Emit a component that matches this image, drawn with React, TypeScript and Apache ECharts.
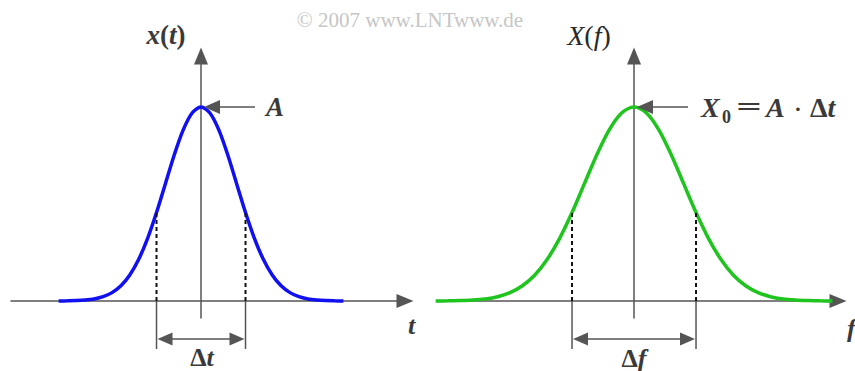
import React, { useEffect, useRef } from "react";
import * as echarts from "echarts";

// Sample positions (in units of the pulse width) and curve values
const tSamples = [
  -1.6, -1.5, -1.4, -1.3, -1.2, -1.1, -1.0, -0.9, -0.8, -0.7, -0.6, -0.5, -0.4, -0.3, -0.2, -0.1, 0,
  0.1, 0.2, 0.3, 0.4, 0.5, 0.6, 0.7, 0.8, 0.9, 1.0, 1.1, 1.2, 1.3, 1.4, 1.5, 1.6,
];
const pulseValues = [
  0.0003, 0.0009, 0.0021, 0.0049, 0.0108, 0.0223, 0.0432, 0.0785, 0.134, 0.215, 0.323, 0.456, 0.605,
  0.754, 0.882, 0.969, 1, 0.969, 0.882, 0.754, 0.605, 0.456, 0.323, 0.215, 0.134, 0.0785, 0.0432,
  0.0223, 0.0108, 0.0049, 0.0021, 0.0009, 0.0003,
];
const fSamples = tSamples;
const spectrumValues = pulseValues;

// Equivalent width markers: half width, curve level there, peak value
const pulseMarker = [0.5, 0.456, 1];
const spectrumMarker = [0.5, 0.456, 1];

const SERIF = "'Liberation Serif', 'Times New Roman', serif";
const AXIS = "#555555";
const INK = "#3a3a3a";

function annotations(params: any, api: any) {
  const half = api.value(0);
  const level = api.value(1);
  const peak = api.value(2);
  const base = api.coord([0, 0]);
  const lo = api.coord([-half, level]);
  const hi = api.coord([half, level]);
  const top = api.coord([0, peak]);
  const by = base[1];
  const ay = by + 38;
  const head = 15;
  const hw = 6.5;
  const dash = { stroke: "#111", lineWidth: 2, lineDash: [4, 3] };
  const solid = { stroke: AXIS, lineWidth: 1.5 };
  const children: any[] = [
    { type: "line", shape: { x1: lo[0], y1: by, x2: lo[0], y2: lo[1] }, style: dash },
    { type: "line", shape: { x1: hi[0], y1: by, x2: hi[0], y2: hi[1] }, style: dash },
    { type: "line", shape: { x1: lo[0], y1: by, x2: lo[0], y2: by + 48 }, style: solid },
    { type: "line", shape: { x1: hi[0], y1: by, x2: hi[0], y2: by + 48 }, style: solid },
    { type: "line", shape: { x1: lo[0] + 4, y1: ay, x2: hi[0] - 4, y2: ay }, style: solid },
    { type: "polygon", shape: { points: [[lo[0] + 1, ay], [lo[0] + 1 + head, ay - hw], [lo[0] + 1 + head, ay + hw]] }, style: { fill: AXIS } },
    { type: "polygon", shape: { points: [[hi[0] - 1, ay], [hi[0] - 1 - head, ay - hw], [hi[0] - 1 - head, ay + hw]] }, style: { fill: AXIS } },
    // pointer to the peak
    { type: "line", shape: { x1: top[0] + 10, y1: top[1], x2: top[0] + 54, y2: top[1] }, style: solid },
    { type: "polygon", shape: { points: [[top[0] + 3, top[1]], [top[0] + 19, top[1] - 7], [top[0] + 19, top[1] + 7]] }, style: { fill: AXIS } },
  ];
  return { type: "group", children };
}

function axisPair(gridIndex: number, xMin: number, xMax: number) {
  const line = {
    onZero: true,
    symbol: ["none", "triangle"],
    symbolSize: [14, 17],
    lineStyle: { color: AXIS, width: 1.5 },
  };
  const hidden = { axisTick: { show: false }, axisLabel: { show: false }, splitLine: { show: false } };
  return {
    x: { gridIndex, type: "value", min: xMin, max: xMax, axisLine: line, ...hidden },
    y: { gridIndex, type: "value", min: -0.0876, max: 1.263, axisLine: line, ...hidden },
  };
}

const bi = (size: number) => ({ font: `italic bold ${size}px ${SERIF}`, fill: INK });
const up = (size: number) => ({ font: `bold ${size}px ${SERIF}`, fill: INK });
const it = (size: number) => ({ font: `italic ${size}px ${SERIF}`, fill: "#2a2a2a" });
const rm = (size: number) => ({ font: `${size}px ${SERIF}`, fill: "#2a2a2a" });

function label(x: number, y: number, style: any, align = "left", scaleX = 1) {
  return { type: "text", x, y, scaleX, style: { ...style, textAlign: align, textVerticalAlign: "middle" } };
}

export default function App() {
  const ref = useRef<HTMLDivElement>(null);

  useEffect(() => {
    if (!ref.current) return;
    const chart = echarts.init(ref.current, null, { renderer: "svg" });
    const left = axisPair(0, -2.135, 2.292);
    const right = axisPair(1, -1.589, 1.645);

    chart.setOption({
      animation: false,
      backgroundColor: "#ffffff",
      grid: [
        { left: 11, right: 450, top: 56, bottom: 53 },
        { left: 437, right: 17, top: 56, bottom: 53 },
      ],
      xAxis: [left.x, right.x],
      yAxis: [left.y, right.y],
      series: [
        {
          type: "line",
          xAxisIndex: 0,
          yAxisIndex: 0,
          data: tSamples.map((t, i) => [t, pulseValues[i]]),
          smooth: 0.3,
          symbol: "none",
          lineStyle: { color: "#1010f0", width: 3.5 },
          z: 3,
        },
        {
          type: "line",
          xAxisIndex: 1,
          yAxisIndex: 1,
          data: fSamples.map((f, i) => [f, spectrumValues[i]]),
          smooth: 0.3,
          symbol: "none",
          lineStyle: { color: "#1fc41f", width: 3.5 },
          z: 3,
        },
        { type: "custom", xAxisIndex: 0, yAxisIndex: 0, data: [pulseMarker], renderItem: annotations, z: 4 },
        { type: "custom", xAxisIndex: 1, yAxisIndex: 1, data: [spectrumMarker], renderItem: annotations, z: 4 },
      ],
      graphic: [
        label(410, 20, { text: "© 2007 www.LNTwww.de", font: `21px ${SERIF}`, fill: "#c6c6c6" }, "center"),
        label(166, 35, { text: "{i|x}{u|(}{i|t}{u|)}", rich: { i: bi(27), u: up(27) } }, "center"),
        label(266, 107, { text: "A", ...bi(27) }),
        label(408, 325, { text: "t", ...bi(26) }),
        label(202, 357, { text: "{u|Δ}{i|t}", rich: { i: bi(26), u: up(26) } }, "center"),
        label(589, 35, { text: "{i|X}{u|(}{i|f}{u|)}", rich: { i: it(28), u: rm(28) } }, "center"),
        label(701, 107, { text: "X", ...bi(28) }),
        label(722, 117, { text: "0", ...up(18) }),
        label(749, 107, { text: "=", ...up(28) }, "center", 1.6),
        label(766, 107, { text: "A", ...bi(28) }),
        label(798, 108, { text: "·", ...up(22) }, "center"),
        label(810, 107, { text: "{u|Δ}{i|t}", rich: { i: bi(28), u: up(28) } }),
        label(847, 328, { text: "f", ...bi(26) }),
        label(634, 358, { text: "{u|Δ}{i|f}", rich: { i: bi(26), u: up(26) } }, "center"),
      ],
    });
    return () => chart.dispose();
  }, []);

  return (
    <div
      ref={ref}
      style={{ position: "absolute", left: 0, top: 0, width: 855, height: 371, background: "#fff" }}
    />
  );
}
